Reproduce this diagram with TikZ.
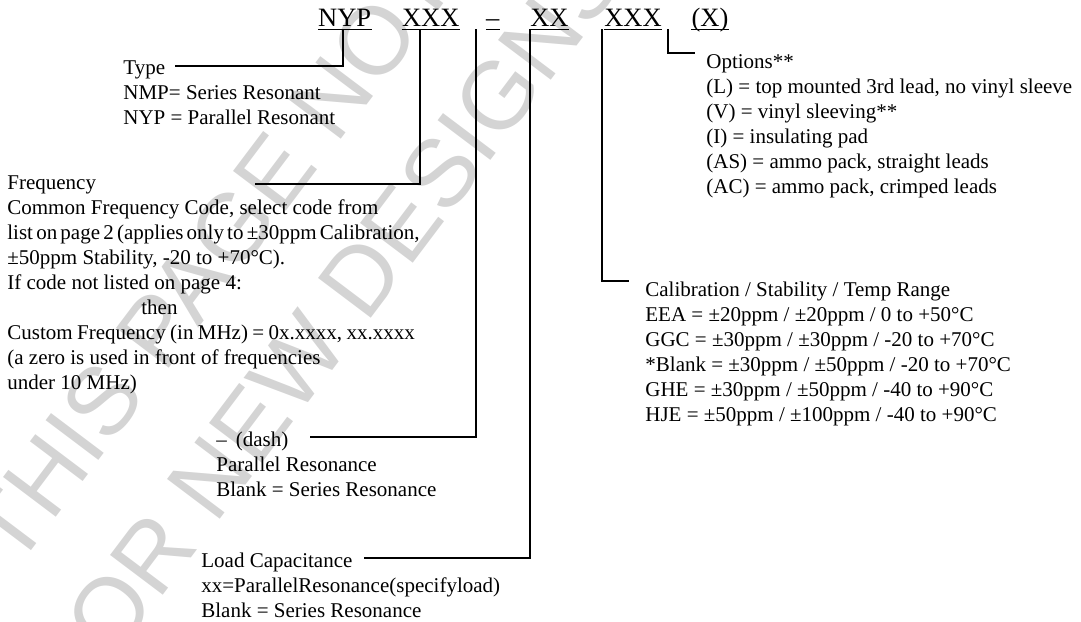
\documentclass[tikz,border=0pt]{standalone}
\usepackage{fontspec}
\setmainfont{Liberation Serif}
\newfontfamily\wmfont{Liberation Sans}
\usetikzlibrary{calc}
\usetikzlibrary{positioning}

\begin{document}
\begin{tikzpicture}[x=0.5pt,y=-0.5pt,
      code part/.style={inner sep=0pt,text depth=1.5pt,anchor=base,
        font=\fontsize{13.25}{15}\selectfont},
      head/.style={inner sep=0pt,text height=9pt,text depth=0pt,
        anchor=base west,font=\fontsize{10.5}{12.5}\selectfont},
      head right/.style={head,text height=15pt},
      desc/.style={inner sep=0pt,align=left,anchor=north west,
        font=\fontsize{10.5}{12.5}\selectfont},
      watermark/.style={text=black!17,rotate=53,
        font=\wmfont\fontsize{48}{54}\selectfont},
      link/.style={line width=1pt},
      underln/.style={line width=0.5pt}
      ]
      \useasboundingbox (0,0) rectangle (1081,621);
      % watermark behind everything
      \begin{scope}
        \clip (0,0) rectangle (1081,621);
        \node[watermark] (wmTop) at (211,257) {THIS PAGE NOT};
        \node[watermark] (wmBottom) at (326,324) {FOR NEW DESIGNS};
      \end{scope}
      % part number
      \node[code part] (hdrType) at (344.7,26) {NYP};
      \node[code part,base right=15pt of hdrType] (hdrFreq) {XXX};
      \node[code part,base right=13pt of hdrFreq] (hdrDash) {–};
      \node[code part,base right=15pt of hdrDash] (hdrLoad) {XX};
      \node[code part,base right=17.5pt of hdrLoad] (hdrCal) {XXX};
      \node[code part,base right=14.5pt of hdrCal] (hdrOpt) {(X)};
      \draw[underln] (hdrType.south west) -- (hdrType.south east);
      \draw[underln] (hdrFreq.south west) -- (hdrFreq.south east);
      \draw[underln] (hdrDash.south west) -- (hdrDash.south east);
      \draw[underln] (hdrLoad.south west) -- (hdrLoad.south east);
      \draw[underln] (hdrCal.south west) -- (hdrCal.south east);
      \draw[underln] (hdrOpt.south west) -- (hdrOpt.south east);
      % left column
      \node[head] (typeHead) at (123,74.5) {Type};
      \node[desc,below=3.75pt of typeHead.base west,anchor=north west] (typeBody)
      {\strut NMP= Series Resonant\\NYP = Parallel Resonant};
      \node[head,text height=5.5pt] (freqHead) at (7,189) {Frequency};
      \node[desc,below=3.75pt of freqHead.base west,anchor=north west] (freqBody)
      {\strut Common Frequency Code, select code from\\
        {\spaceskip=1.6pt\relax list on page 2 (applies only to ±30ppm Calibration,}\\
        ±50ppm Stability, -20 to +70°C).\\
        If code not listed on page 4:\\
        \hspace*{67pt}then\\
        {\spaceskip=2.2pt\relax Custom Frequency (in MHz) = 0x.xxxx, xx.xxxx}\\
        (a zero is used in front of frequencies\\
        under 10 MHz)};
      \node[head] (dashHead) at (216,446) {–\hspace{4.5pt}(dash)};
      \node[desc,below=3.75pt of dashHead.base west,anchor=north west] (dashBody)
      {\strut Parallel Resonance\\Blank = Series Resonance};
      \node[head] (loadHead) at (201,567) {Load Capacitance};
      \node[desc,below=3.75pt of loadHead.base west,anchor=north west] (loadBody)
      {\strut xx=ParallelResonance(specifyload)\\Blank = Series Resonance};
      % right column
      \node[head right] (optHead) at (706,68) {Options**};
      \node[desc,below=3.75pt of optHead.base west,anchor=north west] (optBody)
      {\strut (L) = top mounted 3rd lead, no vinyl sleeve\\
        (V) = vinyl sleeving**\\
        (I) = insulating pad\\
        (AS) = ammo pack, straight leads\\
        (AC) = ammo pack, crimped leads};
      \node[head right] (calHead) at (645,296) {Calibration / Stability / Temp Range};
      \node[desc,below=3.75pt of calHead.base west,anchor=north west] (calBody)
      {\strut EEA = ±20ppm / ±20ppm / 0 to +50°C\\
        GGC = ±30ppm / ±30ppm / -20 to +70°C\\
        *Blank = ±30ppm / ±50ppm / -20 to +70°C\\
        GHE = ±30ppm / ±50ppm / -40 to +90°C\\
        HJE = ±50ppm / ±100ppm / -40 to +90°C};
      % connectors
      \draw[link,shorten >=5pt] ([xshift=-1pt]hdrType.south) |- (typeHead.east);
      \draw[link,shorten >=79.5pt] ([xshift=9pt]hdrFreq.south west) |- (freqHead.east);
      \draw[link,shorten >=10.5pt] ([xshift=-5pt]hdrDash.south west) |- (dashHead.east);
      \draw[link,shorten >=5.75pt] (hdrLoad.south west) |- (loadHead.east);
      \draw[link,shorten >=8pt] ([xshift=-1pt]hdrCal.south west) |- (calHead.west);
      \draw[link,shorten >=5.5pt] ([xshift=-11.5pt]hdrOpt.south west) |- (optHead.west);
    \end{tikzpicture}
\end{document}
